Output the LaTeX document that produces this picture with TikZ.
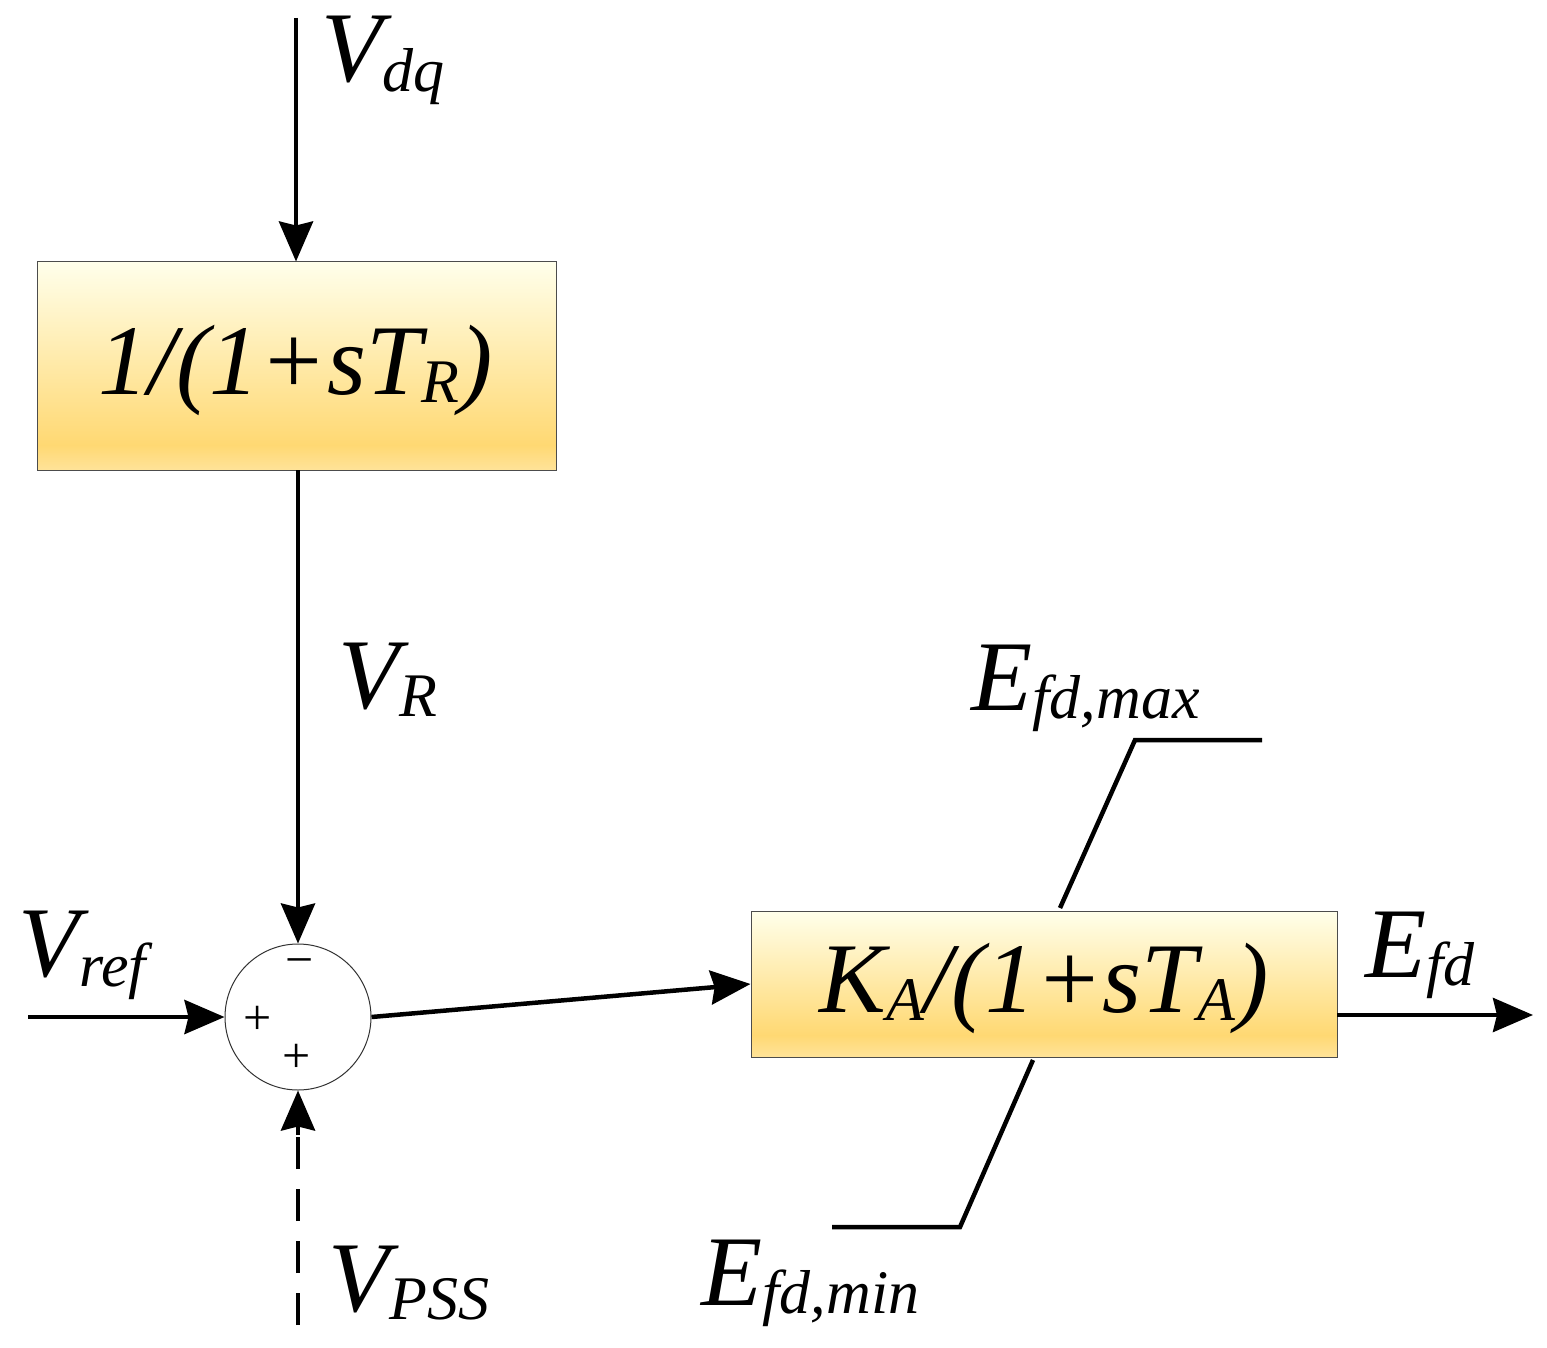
\documentclass[tikz,border=0pt]{standalone}
\usepackage{fontspec}
\setmainfont{Liberation Serif}
\usetikzlibrary{arrows.meta}
\begin{document}
\begin{tikzpicture}[x=1pt,y=-1pt,
  ln/.style={line width=4.5pt},
  arr/.style={ln,-{Stealth[length=40pt,width=34pt,inset=4pt]}},
  blk/.style={draw=black!70,line width=1pt,top color=yellow!10!white,bottom color=yellow!50!orange!45!white,middle color=yellow!50!orange!50!white,shading angle=0},
  big/.style={font=\fontsize{100}{100}\selectfont\itshape},
  sgn/.style={font=\fontsize{50}{50}\selectfont}]
\useasboundingbox (0,0) rectangle (1547,1348);
\fill[white] (0,0) rectangle (1547,1348);
\shade[top color=yellow!8!white,bottom color=yellow!45!orange!55!white] (37,262) rectangle (556,445);
\shade[top color=yellow!45!orange!55!white,bottom color=yellow!45!orange!40!white] (37,445) rectangle (556,470);
\node[draw=black!70,line width=1pt,minimum width=519pt,minimum height=208pt,inner sep=0pt] (b1) at (296.5,366) {};
\node[big] at (296,370) {1/(1+\textit{sT}\raisebox{-8pt}{\fontsize{62}{62}\selectfont R})};
\shade[top color=yellow!8!white,bottom color=yellow!45!orange!55!white] (751,911) rectangle (1337,1035);
\shade[top color=yellow!45!orange!55!white,bottom color=yellow!45!orange!40!white] (751,1035) rectangle (1337,1057);
\node[draw=black!70,line width=1pt,minimum width=586pt,minimum height=146pt,inner sep=0pt] (b2) at (1044,984) {};
\node[big] at (1044,988) {K\raisebox{-8pt}{\fontsize{62}{62}\selectfont A}/(1+sT\raisebox{-8pt}{\fontsize{62}{62}\selectfont A})};
\node[draw=black!80,line width=1pt,circle,minimum size=146pt,inner sep=0pt] (s) at (298,1017) {};
\coordinate (vdq) at (296,18);
\draw[arr] (vdq) -- (b1.north -| vdq);
\draw[arr] (298,470) -- (s.north);
\coordinate (vref) at (28,1017);
\draw[arr] (vref) -- (s.west);
\coordinate (vpss) at (298,1325);
\draw[ln,dash pattern=on 32pt off 20pt] (vpss) -- (298,1130);
\draw[arr] (298,1135) -- (s.south);
\draw[arr] (s.east) -- (b2.west);
\coordinate (efd) at (1533,1015);
\draw[arr] (1337,1015) -- (efd);
\draw[ln] (1060,908) -- (1135,740) -- (1262,740);
\draw[ln] (1033,1060) -- (960,1227) -- (832,1227);
\node[sgn] at (300,968) {−};
\node[sgn] at (258,1020) {+};
\node[sgn] at (297,1058) {+};
\node[big,anchor=west] at (318,60) {V\raisebox{-10pt}{\fontsize{62}{62}\selectfont dq}};
\node[big,anchor=west] at (335,680) {V\raisebox{-8pt}{\fontsize{62}{62}\selectfont R}};
\node[big,anchor=west] at (15,955) {V\raisebox{-10pt}{\fontsize{62}{62}\selectfont ref}};
\node[big,anchor=west] at (325,1283) {V\raisebox{-8pt}{\fontsize{62}{62}\selectfont PSS}};
\node[big,anchor=west] at (1362,955) {E\raisebox{-8pt}{\fontsize{62}{62}\selectfont fd}};
\node[big,anchor=west] at (968,688) {E\raisebox{-8pt}{\fontsize{62}{62}\selectfont fd,max}};
\node[big,anchor=west] at (698,1283) {E\raisebox{-8pt}{\fontsize{62}{62}\selectfont fd,min}};
\end{tikzpicture}
\end{document}
